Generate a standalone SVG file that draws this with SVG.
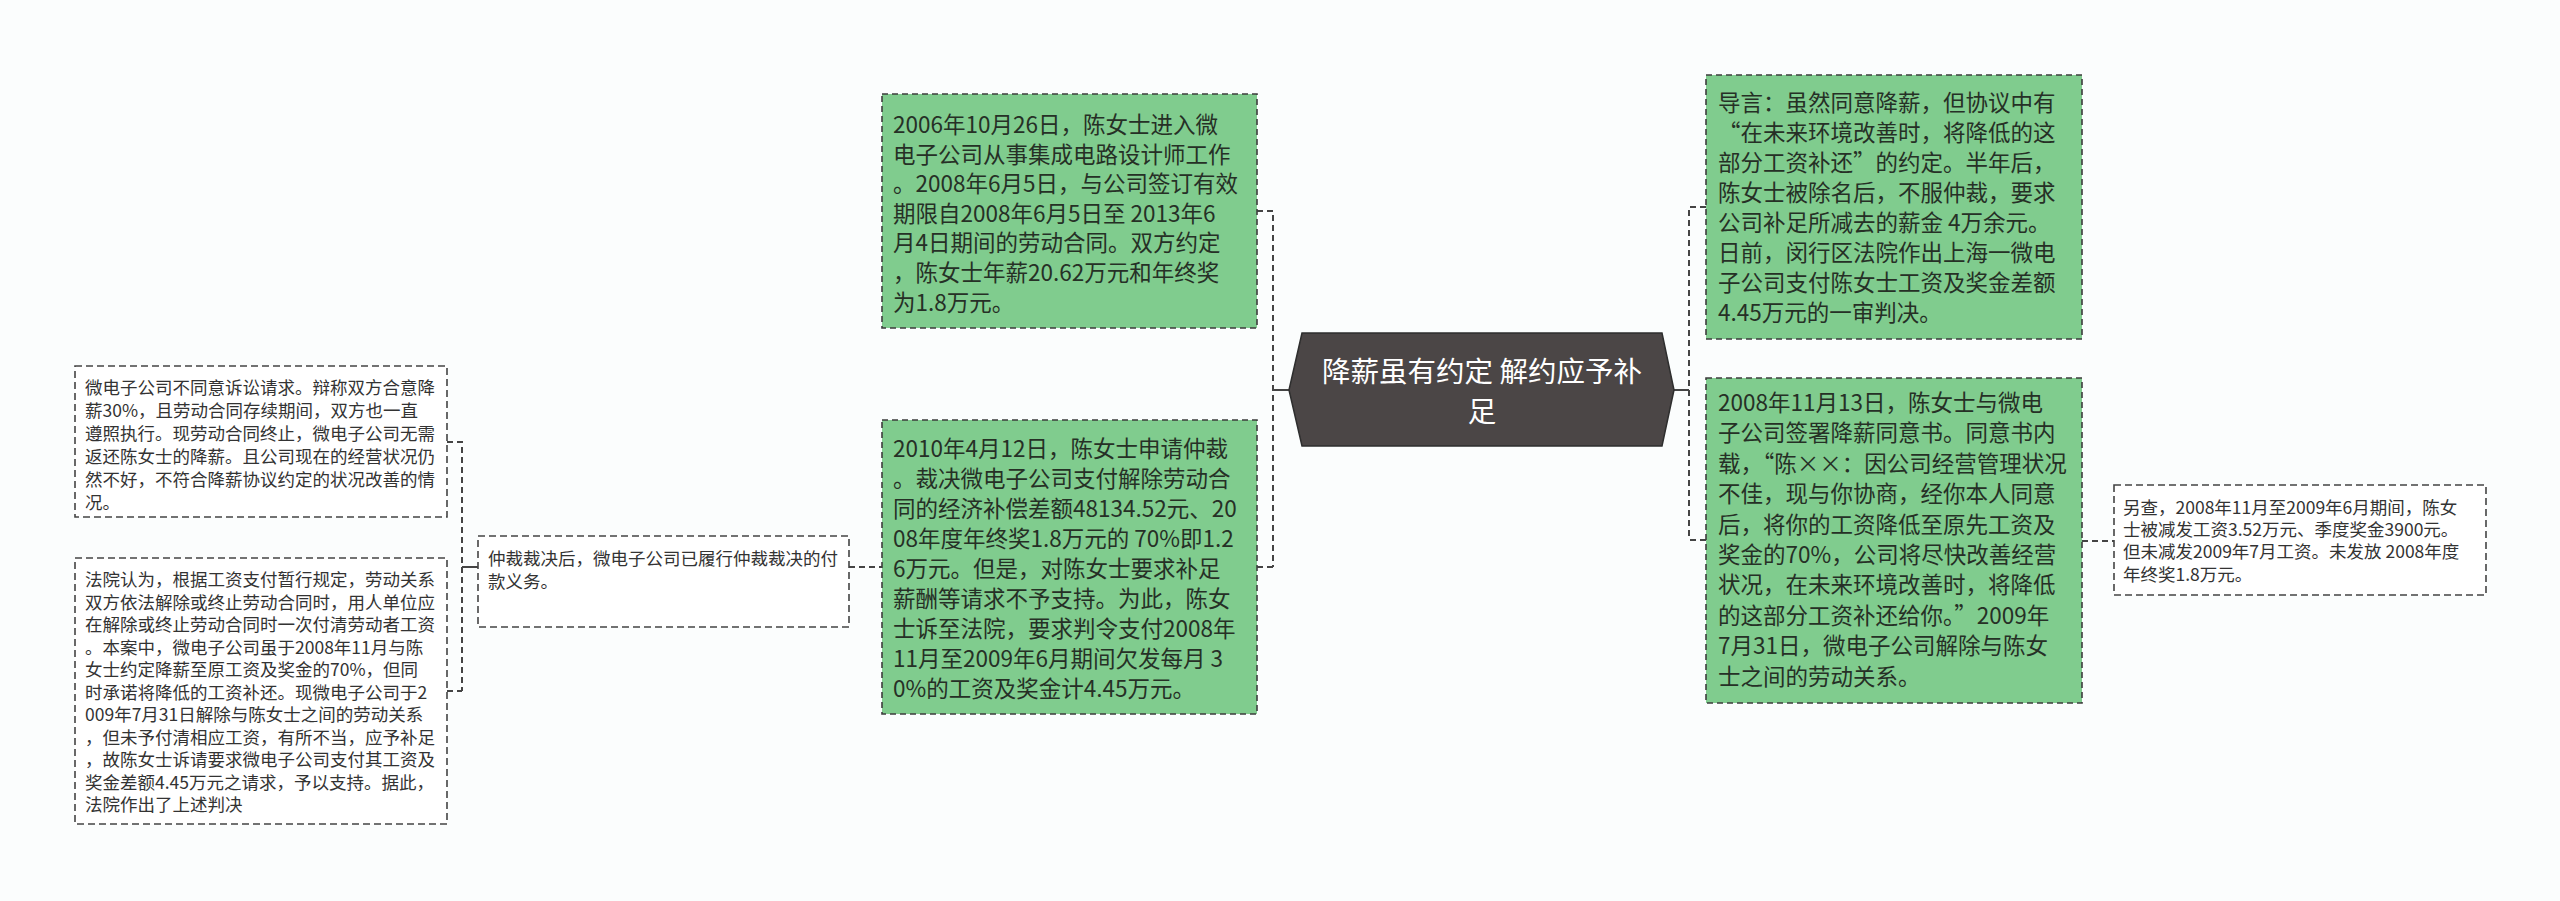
<svg xmlns="http://www.w3.org/2000/svg" width="2560" height="901" viewBox="0 0 2560 901">
<style>
.bg{fill:#fbfdfd}
.g{fill:#80cc8e;stroke:#3d3d3d;stroke-width:1.6;stroke-dasharray:6,4}
.w{fill:#ffffff;stroke:#444;stroke-width:1.6;stroke-dasharray:7,4}
.t{font-family:"Noto Sans CJK SC","Noto Sans",sans-serif;font-size:22.5px;fill:#263026}
.s{font-family:"Noto Sans CJK SC","Noto Sans",sans-serif;font-size:17.5px;fill:#333}
.c{font-family:"Noto Sans CJK SC","Noto Sans",sans-serif;font-size:28.5px;fill:#ffffff;text-anchor:middle}
.ln{fill:none;stroke:#444;stroke-width:2;stroke-dasharray:6,4}
.sl{fill:none;stroke:#444;stroke-width:2}
</style>
<rect class="bg" x="0" y="0" width="2560" height="901"/>
<g id="connectors">
<path class="ln" d="M1257,211 H1273 V567 M1257,567 H1273"/>
<path class="sl" d="M1273,390 H1289"/>
<path class="ln" d="M1706,207 H1689 V540 M1706,540 H1689"/>
<path class="sl" d="M1674,390 H1689"/>
<path class="ln" d="M2082,541 H2114"/>
<path class="ln" d="M849,567 H882"/>
<path class="ln" d="M447,442 H462 V691 M447,691 H462"/>
<path class="sl" d="M462,567 H478"/>
</g>
<g id="center">
<polygon points="1289,390 1302,333 1662,333 1674,390 1662,446 1302,446" fill="#4b4646" stroke="#2e2e2e" stroke-width="1.5"/>
<text class="c" x="1482" y="382">降薪虽有约定 解约应予补</text>
<text class="c" x="1482" y="422">足</text>
</g>
<g id="n1">
<rect class="g" x="882" y="94" width="375" height="234"/>
<text class="t" x="893" y="133">2006年10月26日，陈女士进入微</text>
<text class="t" x="893" y="162.6">电子公司从事集成电路设计师工作</text>
<text class="t" x="893" y="192.2">。2008年6月5日，与公司签订有效</text>
<text class="t" x="893" y="221.8">期限自2008年6月5日至 2013年6</text>
<text class="t" x="893" y="251.4">月4日期间的劳动合同。双方约定</text>
<text class="t" x="893" y="281">，陈女士年薪20.62万元和年终奖</text>
<text class="t" x="893" y="310.6">为1.8万元。</text>
</g>
<g id="n2">
<rect class="g" x="882" y="420" width="375" height="294"/>
<text class="t" x="893" y="457">2010年4月12日，陈女士申请仲裁</text>
<text class="t" x="893" y="487">。裁决微电子公司支付解除劳动合</text>
<text class="t" x="893" y="517">同的经济补偿差额48134.52元、20</text>
<text class="t" x="893" y="547">08年度年终奖1.8万元的 70%即1.2</text>
<text class="t" x="893" y="577">6万元。但是，对陈女士要求补足</text>
<text class="t" x="893" y="607">薪酬等请求不予支持。为此，陈女</text>
<text class="t" x="893" y="637">士诉至法院，要求判令支付2008年</text>
<text class="t" x="893" y="667">11月至2009年6月期间欠发每月 3</text>
<text class="t" x="893" y="697">0%的工资及奖金计4.45万元。</text>
</g>
<g id="n3">
<rect class="g" x="1706" y="75" width="376" height="264"/>
<text class="t" x="1718" y="111">导言：虽然同意降薪，但协议中有</text>
<text class="t" x="1718" y="141">“在未来环境改善时，将降低的这</text>
<text class="t" x="1718" y="171">部分工资补还”的约定。半年后，</text>
<text class="t" x="1718" y="201">陈女士被除名后，不服仲裁，要求</text>
<text class="t" x="1718" y="231">公司补足所减去的薪金 4万余元。</text>
<text class="t" x="1718" y="261">日前，闵行区法院作出上海一微电</text>
<text class="t" x="1718" y="291">子公司支付陈女士工资及奖金差额</text>
<text class="t" x="1718" y="321">4.45万元的一审判决。</text>
</g>
<g id="n4">
<rect class="g" x="1706" y="378" width="376" height="325"/>
<text class="t" x="1718" y="411">2008年11月13日，陈女士与微电</text>
<text class="t" x="1718" y="441.4">子公司签署降薪同意书。同意书内</text>
<text class="t" x="1718" y="471.8">载，“陈××：因公司经营管理状况</text>
<text class="t" x="1718" y="502.2">不佳，现与你协商，经你本人同意</text>
<text class="t" x="1718" y="532.6">后，将你的工资降低至原先工资及</text>
<text class="t" x="1718" y="563">奖金的70%，公司将尽快改善经营</text>
<text class="t" x="1718" y="593.4">状况，在未来环境改善时，将降低</text>
<text class="t" x="1718" y="623.8">的这部分工资补还给你。”2009年</text>
<text class="t" x="1718" y="654.2">7月31日，微电子公司解除与陈女</text>
<text class="t" x="1718" y="684.6">士之间的劳动关系。</text>
</g>
<g id="n5">
<rect class="w" x="2114" y="485" width="372" height="110"/>
<text class="s" x="2123" y="514">另查，2008年11月至2009年6月期间，陈女</text>
<text class="s" x="2123" y="536.2">士被减发工资3.52万元、季度奖金3900元。</text>
<text class="s" x="2123" y="558.4">但未减发2009年7月工资。未发放 2008年度</text>
<text class="s" x="2123" y="580.6">年终奖1.8万元。</text>
</g>
<g id="n6">
<rect class="w" x="75" y="366" width="372" height="151"/>
<text class="s" x="85" y="394">微电子公司不同意诉讼请求。辩称双方合意降</text>
<text class="s" x="85" y="417">薪30%，且劳动合同存续期间，双方也一直</text>
<text class="s" x="85" y="440">遵照执行。现劳动合同终止，微电子公司无需</text>
<text class="s" x="85" y="463">返还陈女士的降薪。且公司现在的经营状况仍</text>
<text class="s" x="85" y="486">然不好，不符合降薪协议约定的状况改善的情</text>
<text class="s" x="85" y="509">况。</text>
</g>
<g id="n7">
<rect class="w" x="75" y="558" width="372" height="266"/>
<text class="s" x="85" y="586">法院认为，根据工资支付暂行规定，劳动关系</text>
<text class="s" x="85" y="608.5">双方依法解除或终止劳动合同时，用人单位应</text>
<text class="s" x="85" y="631">在解除或终止劳动合同时一次付清劳动者工资</text>
<text class="s" x="85" y="653.5">。本案中，微电子公司虽于2008年11月与陈</text>
<text class="s" x="85" y="676">女士约定降薪至原工资及奖金的70%，但同</text>
<text class="s" x="85" y="698.5">时承诺将降低的工资补还。现微电子公司于2</text>
<text class="s" x="85" y="721">009年7月31日解除与陈女士之间的劳动关系</text>
<text class="s" x="85" y="743.5">，但未予付清相应工资，有所不当，应予补足</text>
<text class="s" x="85" y="766">，故陈女士诉请要求微电子公司支付其工资及</text>
<text class="s" x="85" y="788.5">奖金差额4.45万元之请求，予以支持。据此，</text>
<text class="s" x="85" y="811">法院作出了上述判决</text>
</g>
<g id="n8">
<rect class="w" x="478" y="536" width="371" height="91"/>
<text class="s" x="488" y="565">仲裁裁决后，微电子公司已履行仲裁裁决的付</text>
<text class="s" x="488" y="588">款义务。</text>
</g>
</svg>
